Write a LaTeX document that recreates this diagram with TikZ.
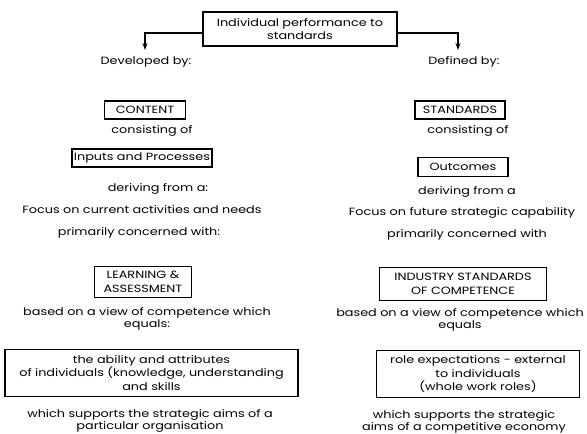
\documentclass[tikz,border=0pt]{standalone}
\usepackage{fontspec}
\setmainfont{Poppins}[FakeStretch=1.22]
\usetikzlibrary{arrows.meta}
\begin{document}
\begin{tikzpicture}[x=1pt,y=-1pt,
  txt/.style={font=\fontsize{10.5}{12.5}\selectfont, align=center, inner sep=0pt},
  bx/.style={txt, font=\fontsize{10.5}{13.5}\selectfont, draw, line width=1.1pt, inner sep=1pt},
  conn/.style={line width=1.1pt, -{Stealth[length=7pt,width=5pt]}}]
\useasboundingbox (0,0) rectangle (587,434);
\fill[white] (0,0) rectangle (587,434);
% top
\node[bx, minimum width=194pt, minimum height=34pt] (top) at (300,29) {Individual performance to\\standards};
\coordinate (la) at (145,50);
\coordinate (ra) at (458,50);
\draw[conn] ([yshift=-4pt]top.west) -| (la);
\draw[conn] ([yshift=-4pt]top.east) -| (ra);
\node[txt] (dev) at (146,62) {Developed by:};
\node[txt] (def) at (464,62) {Defined by:};
% left column
\node[bx, minimum width=81pt, minimum height=18pt] (content) at (145,110) {CONTENT};
\node[txt] (cons1) at (152,131) {consisting of};
\node[bx, minimum width=140pt, minimum height=18pt] (inputs) at (142,158) {Inputs and Processes};
\node[txt] (der1) at (158,189) {deriving from a:};
\node[txt] (focus1) at (142,210) {Focus on current activities and needs};
\node[txt] (prim1) at (139,233) {primarily concerned with:};
\node[bx, minimum width=97pt, minimum height=31pt] (learn) at (143,282) {LEARNING \&\\ASSESSMENT};
\node[txt] (based1) at (147,319) {based on a view of competence which\\equals:};
\node[bx, minimum width=293pt, minimum height=47pt] (abil) at (151.5,373) {the ability and attributes\\of individuals (knowledge, understanding\\and skills};
\node[txt] (supp1) at (150,421) {which supports the strategic aims of a\\particular organisation};
% right column
\node[bx, minimum width=90pt, minimum height=18pt] (stand) at (460,110) {STANDARDS};
\node[txt] (cons2) at (468,131) {consisting of};
\node[bx, minimum width=90pt, minimum height=19pt] (outc) at (463,167) {Outcomes};
\node[txt] (der2) at (467,192) {deriving from a};
\node[txt] (focus2) at (462,213) {Focus on future strategic capability};
\node[txt] (prim2) at (467,235) {primarily concerned with};
\node[bx, minimum width=167pt, minimum height=33pt] (ind) at (463,284) {INDUSTRY STANDARDS\\OF COMPETENCE};
\node[txt] (based2) at (460,320) {based on a view of competence which\\equals};
\node[bx, minimum width=203pt, minimum height=47pt] (role) at (478,374) {role expectations - external\\to individuals\\(whole work roles)};
\node[txt] (supp2) at (464,422) {which supports the strategic\\aims of a competitive economy};
\end{tikzpicture}
\end{document}
